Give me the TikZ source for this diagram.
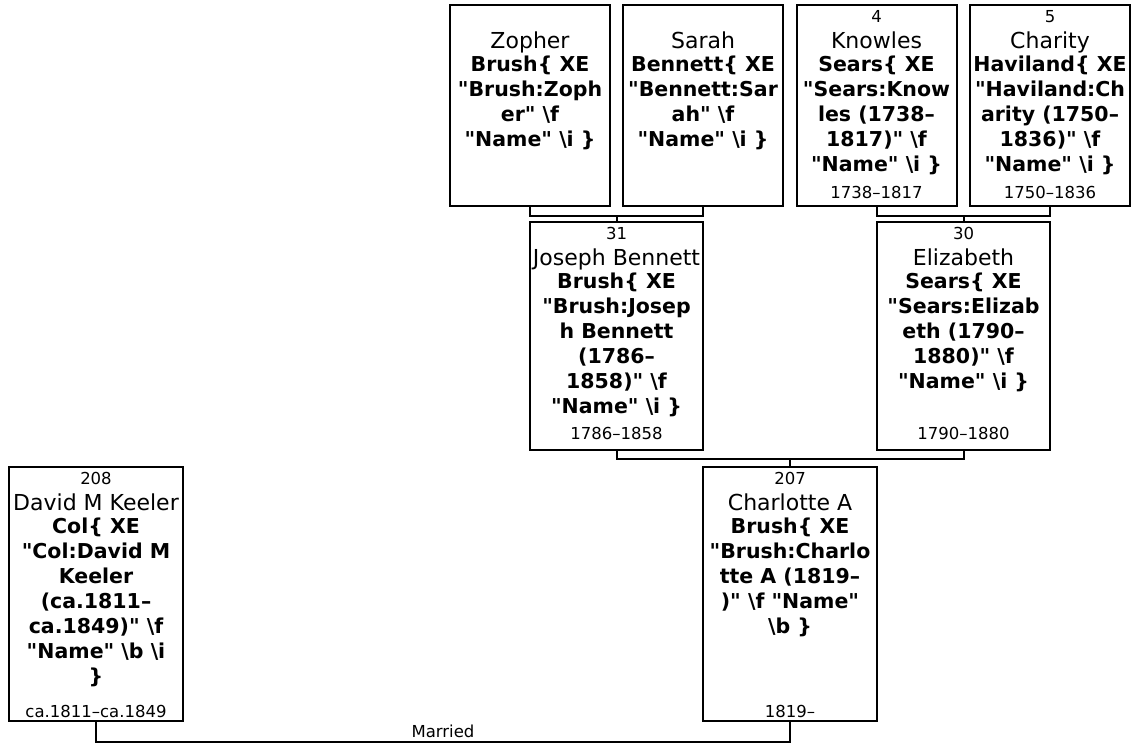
\documentclass[tikz,border=0pt]{standalone}
\usepackage{fontspec}
\setmainfont{DejaVu Sans}[Ligatures=TeXOff]
\usetikzlibrary{calc}

\newcommand{\bsl}{\textbackslash}

\begin{document}
\begin{tikzpicture}[x=1pt, y=-1pt,
    person/.style 2 args={draw, line width=2pt, inner sep=0pt, minimum width=#1, minimum height=#2},
    link/.style={draw, line width=2pt},
    idnum/.style={anchor=base, inner sep=0pt, font=\fontsize{16.5}{19}\selectfont},
    given/.style={anchor=base, inner sep=0pt, font=\fontsize{22}{25}\selectfont},
    surname/.style={anchor=north, inner sep=0pt, align=center, font=\fontsize{20.5}{25}\selectfont\bfseries},
    dates/.style={anchor=base, inner sep=0pt, font=\fontsize{16.5}{19}\selectfont}]
  \useasboundingbox (0,0) rectangle (1147,744);

  % grandparents row
  \node[person={160pt}{201pt}] (zopher)  at (530,105.5) {};
  \node[person={160pt}{201pt}] (sarah)   at (703,105.5) {};
  \node[person={160pt}{201pt}] (knowles) at (876.5,105.5) {};
  \node[person={160pt}{201pt}] (charity) at (1050,105.5) {};
  % parents row
  \node[person={173pt}{228pt}] (joseph)    at (616.5,336) {};
  \node[person={173pt}{228pt}] (elizabeth) at (963.5,336) {};
  % couple row
  \node[person={174pt}{254pt}] (david)     at (96,594) {};
  \node[person={174pt}{254pt}] (charlotte) at (790,594) {};

  % Zopher
  \node[given] (zopher-name) at ([yshift=-44pt]zopher.north) {Zopher};
  \node[surname] (zopher-sur) at ([yshift=-50pt]zopher.north)
    {\rule{0pt}{17pt}Brush\{ XE\\"Brush:Zoph\\er" \bsl f\\"Name" \bsl i \}};
  % Sarah
  \node[given] (sarah-name) at ([yshift=-44pt]sarah.north) {Sarah};
  \node[surname] (sarah-sur) at ([yshift=-50pt]sarah.north)
    {\rule{0pt}{17pt}Bennett\{ XE\\"Bennett:Sar\\ah" \bsl f\\"Name" \bsl i \}};
  % Knowles
  \node[idnum] (knowles-id) at ([yshift=-18pt]knowles.north) {4};
  \node[given] (knowles-name) at ([yshift=-44pt]knowles.north) {Knowles};
  \node[surname] (knowles-sur) at ([yshift=-50pt]knowles.north)
    {\rule{0pt}{17pt}Sears\{ XE\\"Sears:Know\\les (1738–\\1817)" \bsl f\\"Name" \bsl i \}};
  \node[dates] (knowles-date) at ([yshift=9pt]knowles.south) {1738–1817};
  % Charity
  \node[idnum] (charity-id) at ([yshift=-18pt]charity.north) {5};
  \node[given] (charity-name) at ([yshift=-44pt]charity.north) {Charity};
  \node[surname] (charity-sur) at ([yshift=-50pt]charity.north)
    {\rule{0pt}{17pt}Haviland\{ XE\\"Haviland:Ch\\arity (1750–\\1836)" \bsl f\\"Name" \bsl i \}};
  \node[dates] (charity-date) at ([yshift=9pt]charity.south) {1750–1836};
  % Joseph Bennett
  \node[idnum] (joseph-id) at ([yshift=-18pt]joseph.north) {31};
  \node[given] (joseph-name) at ([yshift=-44pt]joseph.north) {Joseph Bennett};
  \node[surname] (joseph-sur) at ([yshift=-50pt]joseph.north)
    {\rule{0pt}{17pt}Brush\{ XE\\"Brush:Josep\\h Bennett\\(1786–\\1858)" \bsl f\\"Name" \bsl i \}};
  \node[dates] (joseph-date) at ([yshift=12pt]joseph.south) {1786–1858};
  % Elizabeth
  \node[idnum] (elizabeth-id) at ([yshift=-18pt]elizabeth.north) {30};
  \node[given] (elizabeth-name) at ([yshift=-44pt]elizabeth.north) {Elizabeth};
  \node[surname] (elizabeth-sur) at ([yshift=-50pt]elizabeth.north)
    {\rule{0pt}{17pt}Sears\{ XE\\"Sears:Elizab\\eth (1790–\\1880)" \bsl f\\"Name" \bsl i \}};
  \node[dates] (elizabeth-date) at ([yshift=12pt]elizabeth.south) {1790–1880};
  % David M Keeler
  \node[idnum] (david-id) at ([yshift=-18pt]david.north) {208};
  \node[given] (david-name) at ([yshift=-44pt]david.north) {David M Keeler};
  \node[surname] (david-sur) at ([yshift=-50pt]david.north)
    {\rule{0pt}{17pt}Col\{ XE\\"Col:David M\\Keeler\\(ca.1811–\\ca.1849)" \bsl f\\"Name" \bsl b \bsl i\\\}};
  \node[dates] (david-date) at ([yshift=5pt]david.south) {ca.1811–ca.1849};
  % Charlotte A
  \node[idnum] (charlotte-id) at ([yshift=-18pt]charlotte.north) {207};
  \node[given] (charlotte-name) at ([yshift=-44pt]charlotte.north) {Charlotte A};
  \node[surname] (charlotte-sur) at ([yshift=-50pt]charlotte.north)
    {\rule{0pt}{17pt}Brush\{ XE\\"Brush:Charlo\\tte A (1819–\\)" \bsl f "Name"\\\bsl b \}};
  \node[dates] (charlotte-date) at ([yshift=5pt]charlotte.south) {1819–};

  % family links
  \draw[link] (zopher.south) -- ++(0,9) coordinate (zs) -| (sarah.south);
  \draw[link] (joseph.north) -- (joseph.north |- zs);
  \draw[link] (knowles.south) -- ++(0,9) coordinate (ks) -| (charity.south);
  \draw[link] (elizabeth.north) -- (elizabeth.north |- ks);
  \draw[link] (joseph.south) -- ++(0,8) coordinate (js) -| (elizabeth.south);
  \draw[link] (charlotte.north) -- (charlotte.north |- js);
  \draw[link] (david.south) -- ++(0,20) -| node[pos=0.25, above, inner sep=3.5pt, font=\fontsize{16.5}{19}\selectfont] (married) {Married} (charlotte.south);
\end{tikzpicture}
\end{document}
